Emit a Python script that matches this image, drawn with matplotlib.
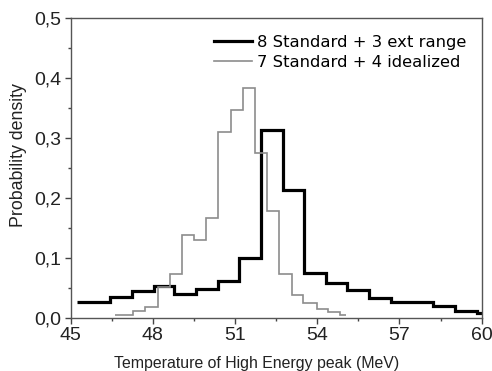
import matplotlib
matplotlib.use("Agg")
import matplotlib.pyplot as plt
from matplotlib.ticker import MultipleLocator, FuncFormatter

# Black series: 8 Standard + 3 ext range
black_edges = [45.24, 46.45, 47.23, 48.03, 48.78, 49.56, 50.37, 51.16, 51.93,
               52.74, 53.52, 54.31, 55.10, 55.89, 56.68, 58.24, 59.03, 59.82, 60.0]
black_vals = [0.027, 0.036, 0.045, 0.054, 0.041, 0.049, 0.063, 0.101, 0.313,
              0.214, 0.075, 0.059, 0.047, 0.034, 0.027, 0.020, 0.013, 0.009]

# Gray series: 7 Standard + 4 idealized
gray_edges = [46.62, 47.27, 47.71, 48.20, 48.62, 49.07, 49.51, 49.94, 50.39,
              50.84, 51.30, 51.73, 52.15, 52.61, 53.07, 53.49, 53.98, 54.40,
              54.83, 55.05]
gray_vals = [0.005, 0.013, 0.019, 0.053, 0.073, 0.139, 0.131, 0.167, 0.311,
             0.347, 0.383, 0.275, 0.179, 0.073, 0.039, 0.025, 0.016, 0.011, 0.005]

labels = ["8 Standard + 3 ext range", "7 Standard + 4 idealized"]
xticks = [45, 48, 51, 54, 57, 60]

fig = plt.figure(figsize=(4.92, 3.71), dpi=100)
ax = fig.add_axes([0.1437, 0.142, 0.979 - 0.1437, 0.951 - 0.142])

ax.stairs(black_vals, black_edges, color="black", linewidth=2.3, baseline=None,
          label=labels[0])
ax.stairs(gray_vals, gray_edges, color="#8c8c8c", linewidth=1.2, baseline=None,
          label=labels[1])

ax.set_xlim(45, 60)
ax.set_ylim(0, 0.5)
ax.set_xticks(xticks)
ax.xaxis.set_minor_locator(MultipleLocator(1.5))
ax.yaxis.set_major_locator(MultipleLocator(0.1))
ax.yaxis.set_major_formatter(FuncFormatter(lambda v, p: f"{v:.1f}".replace(".", ",")))
ax.yaxis.set_minor_locator(MultipleLocator(0.05))

ax.tick_params(which="major", direction="out", length=4, width=1, color="#444444",
               pad=2.5, top=False, right=False, labelsize=14, labelcolor="#222222",
               labelfontfamily="Liberation Sans")
ax.tick_params(which="minor", direction="out", length=2.5, width=1, color="#444444",
               top=False, right=False)
for s in ax.spines.values():
    s.set_color("#555555")
    s.set_linewidth(1.0)

ax.set_xlabel("Temperature of High Energy peak (MeV)", family="Liberation Sans",
              size=11.4, color="#222222", labelpad=8)
ax.xaxis.set_label_coords(0.453, -0.125)
ax.set_ylabel("Probability density", family="Liberation Sans", size=12.8,
              color="#222222", labelpad=3)
ax.yaxis.set_label_coords(-0.106, 0.544)

leg = ax.legend(loc="upper right", frameon=False, prop=dict(family="DejaVu Sans", size=11.8),
                handlelength=2.3, handletextpad=0.3, labelspacing=0.3,
                borderaxespad=0.3, bbox_to_anchor=(0.99, 0.982))

fig.savefig("out.png", dpi=100)
